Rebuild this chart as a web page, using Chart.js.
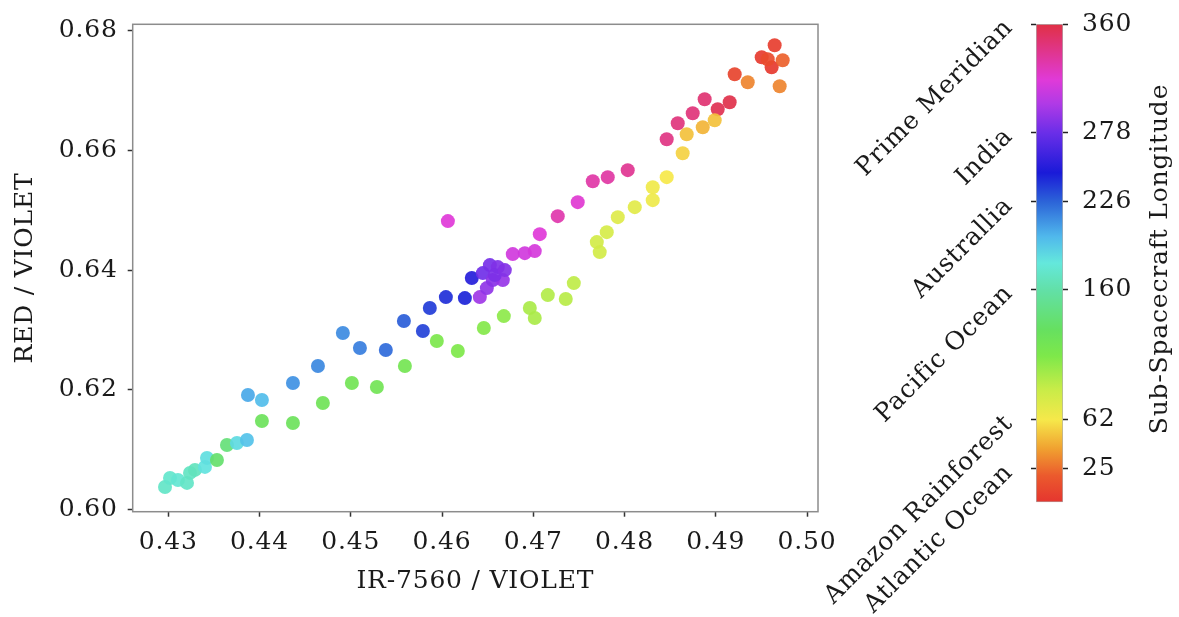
<!DOCTYPE html>
<html><head><meta charset="utf-8">
<script src="https://cdn.jsdelivr.net/npm/chart.js@4.4.1/dist/chart.umd.min.js"></script>
<style>
html,body{margin:0;padding:0;background:#fff;}
#wrap{position:relative;width:1179px;height:617px;overflow:hidden;}
canvas{position:absolute;left:0;top:0;}
</style></head><body>
<div id="wrap"><canvas id="main" width="1179" height="617"></canvas><canvas id="cbar" width="1179" height="617"></canvas></div>
<script>
// ---- data ----
const irViolet = [
0.42964,0.43019,0.43106,0.43205,0.43238,0.43292,0.43402,0.43424,0.43533,0.43643,0.43752,0.43862,
0.43873,0.44026,0.44366,0.44640,0.44913,0.45100,0.45384,0.45582,0.45790,0.45866,0.46042,0.46250,0.46326,
0.46414,0.46447,0.46491,0.46524,0.46611,0.46556,0.46666,0.46578,0.46688,
0.46775,0.46907,0.47016,0.47071,0.47268,0.47487,0.47652,0.47816,0.48035,0.46064,
0.48462,0.48583,0.48747,0.48878,0.49021,0.49152,0.49207,0.49503,0.49645,0.49612,0.49569,0.49733,0.49700,0.49350,
0.44026,0.44366,0.44694,0.45012,0.45286,0.45593,0.45943,0.46173,0.46458,0.46677,0.46962,0.47016,0.47159,0.47356,0.47444,
0.47696,0.47728,0.47805,0.47926,0.48112,0.48309,0.48309,0.48462,0.48637,0.48681,0.48857,0.48988
];
const redViolet = [
0.60383,0.60533,0.60500,0.60450,0.60617,0.60667,0.60717,0.60867,0.60833,0.61083,0.61117,0.61167,
0.61917,0.61833,0.62117,0.62400,0.62950,0.62700,0.62667,0.63150,0.62983,0.63367,0.63550,0.63533,0.63867,
0.63550,0.63950,0.63700,0.64083,0.64050,0.63833,0.63833,0.63917,0.64000,
0.64267,0.64283,0.64317,0.64600,0.64900,0.65133,0.65483,0.65550,0.65667,0.64817,
0.66183,0.66450,0.66617,0.66850,0.66683,0.66800,0.67267,0.67550,0.67750,0.67383,0.67517,0.67500,0.67067,0.67133,
0.61483,0.61450,0.61783,0.62117,0.62050,0.62400,0.62817,0.62650,0.63033,0.63233,0.63367,0.63200,0.63583,0.63517,0.63783,
0.64467,0.64300,0.64633,0.64883,0.65050,0.65167,0.65383,0.65550,0.65950,0.66267,0.66383,0.66500
];
const longitude = [
172,174,176,172,170,168,182,184,135,140,186,196,
205,198,212,215,214,218,224,228,236,238,242,245,252,
295,280,290,282,285,288,292,284,286,
312,312,314,318,330,320,332,333,338,318,
342,344,345,347,356,358,8,3,5,2,12,22,32,32,
125,125,122,120,120,118,112,110,108,105,95,95,92,90,88,
80,80,78,74,72,66,65,62,55,50,46,50
];
const xTicks = [0.43,0.44,0.45,0.46,0.47,0.48,0.49,0.50];
const yTicks = [0.60,0.62,0.64,0.66,0.68];
const cbTicks = [25,62,160,226,278,360];
const cbPlaces = ['Atlantic Ocean','Amazon Rainforest','Pacific Ocean','Australlia','India','Prime Meridian'];
const cmapValues = [0,20,40,62,85,110,130,160,180,200,226,248,278,300,318,340,360];
const cmapColors = ['#e5352f','#eb5a2d','#f0a030','#f6e84a','#c8ec48','#7ee84a','#66e060','#62e0a8','#64e8dc','#50b8ec','#2c64d8','#1a1ad8','#6a2ee8','#b03ae6','#e03ad8','#e0358a','#e03044'];

// ---- helpers ----
function hexRgb(h){return [parseInt(h.slice(1,3),16),parseInt(h.slice(3,5),16),parseInt(h.slice(5,7),16)];}
function cmap(v,a){
  let i=0; while(i<cmapValues.length-2 && v>cmapValues[i+1]) i++;
  const t=Math.max(0,Math.min(1,(v-cmapValues[i])/(cmapValues[i+1]-cmapValues[i])));
  const c0=hexRgb(cmapColors[i]), c1=hexRgb(cmapColors[i+1]);
  const c=c0.map((c,k)=>Math.round(c+(c1[k]-c)*t));
  return 'rgba('+c[0]+','+c[1]+','+c[2]+','+a+')';
}
const FONT='DejaVu Serif';
const FS=25;
const LS='0.8px';
const TXT='#1a1a1a';
const spacingPlugin={id:'spacing',
  beforeUpdate(chart){chart.ctx.letterSpacing=LS;},
  beforeDraw(chart){chart.ctx.letterSpacing=LS;}};
const noPad=s=>{s.paddingTop=0;s.paddingBottom=0;s.paddingLeft=0;s.paddingRight=0;};

const framePlugin={id:'frame',beforeDatasetsDraw(chart){
  const {ctx,chartArea:a}=chart; ctx.save(); ctx.strokeStyle='#8c8c8c'; ctx.lineWidth=1.5;
  ctx.strokeRect(a.left,a.top,a.right-a.left,a.bottom-a.top); ctx.restore();}};

new Chart(document.getElementById('main'),{
  type:'scatter',
  data:{datasets:[{
    data: irViolet.map((x,i)=>({x:x,y:redViolet[i]})),
    pointRadius:7, pointHoverRadius:7, pointBorderWidth:0,
    pointBackgroundColor: longitude.map(v=>cmap(v,0.92))
  }]},
  options:{
    responsive:false, animation:false, events:[],
    layout:{padding:{left:0,top:24.3,right:361,bottom:0}},
    plugins:{legend:{display:false},tooltip:{enabled:false}},
    scales:{
      x:{type:'linear',min:0.4261,max:0.5012,
        afterBuildTicks:s=>{s.ticks=xTicks.map(v=>({value:v}));},
        afterFit:s=>{s.height=105.3;noPad(s);},
        ticks:{callback:v=>Number(v).toFixed(2),font:{family:FONT,size:FS},color:TXT,padding:11,autoSkip:false,maxRotation:0},
        grid:{drawOnChartArea:false,drawTicks:true,tickLength:5,tickColor:'#333',tickWidth:1.5},
        border:{display:false},
        title:{display:true,text:'IR-7560 / VIOLET',font:{family:FONT,size:FS},color:TXT,padding:{top:0,bottom:21}}
      },
      y:{type:'linear',min:0.5997,max:0.681,
        afterBuildTicks:s=>{s.ticks=yTicks.map(v=>({value:v}));},
        afterFit:s=>{s.width=132.7;noPad(s);},
        ticks:{callback:v=>Number(v).toFixed(2),font:{family:FONT,size:FS},color:TXT,padding:10},
        grid:{drawOnChartArea:false,drawTicks:true,tickLength:5,tickColor:'#333',tickWidth:1.5},
        border:{display:false},
        title:{display:true,text:'RED / VIOLET',font:{family:FONT,size:FS},color:TXT,padding:{top:10,bottom:0}}
      }
    }
  },
  plugins:[spacingPlugin,framePlugin]
});

const cbTitlePlugin={id:'cbTitle',afterDraw(chart){
  const {ctx}=chart; ctx.save(); ctx.translate(1160,259); ctx.rotate(-Math.PI/2);
  ctx.font=FS+'px "'+FONT+'"'; ctx.letterSpacing=LS; ctx.fillStyle=TXT; ctx.textAlign='center'; ctx.textBaseline='middle';
  ctx.fillText('Sub-Spacecraft Longitude',0,0); ctx.restore();}};

new Chart(document.getElementById('cbar'),{
  type:'bar',
  data:{labels:[''],datasets:[{
    data:[[0,360]], barPercentage:1, categoryPercentage:1,
    borderWidth:1, borderColor:'rgba(110,110,110,0.55)', borderSkipped:false,
    backgroundColor:(c)=>{
      const ch=c.chart; if(!ch.chartArea) return '#888';
      const y=ch.scales.y; const g=ch.ctx.createLinearGradient(0,y.getPixelForValue(0),0,y.getPixelForValue(360));
      cmapValues.forEach((v,i)=>g.addColorStop(v/360,cmapColors[i])); return g;}
  }]},
  options:{
    responsive:false, animation:false, events:[],
    layout:{padding:{left:0,right:0,top:24,bottom:114.8}},
    plugins:{legend:{display:false},tooltip:{enabled:false}},
    scales:{
      x:{display:false},
      y:{type:'linear',position:'right',min:0,max:360,
        afterBuildTicks:s=>{s.ticks=cbTicks.map(v=>({value:v}));},
        afterFit:s=>{s.width=116;noPad(s);},
        ticks:{font:{family:FONT,size:FS},color:TXT,padding:14},
        grid:{drawOnChartArea:false,drawTicks:true,tickLength:5,tickColor:'#222',tickWidth:1.5},
        border:{display:false}
      },
      yl:{type:'linear',position:'left',min:0,max:360,
        afterBuildTicks:s=>{s.ticks=cbTicks.map(v=>({value:v}));},
        afterFit:s=>{s.width=1036;noPad(s);},
        ticks:{callback:v=>cbPlaces[cbTicks.indexOf(v)],minRotation:45,maxRotation:45,font:{family:FONT,size:FS},color:TXT,padding:22},
        grid:{drawOnChartArea:false,drawTicks:true,tickLength:5,tickColor:'#222',tickWidth:1.5},
        border:{display:false}
      }
    }
  },
  plugins:[spacingPlugin,cbTitlePlugin]
});
</script>
</body></html>
